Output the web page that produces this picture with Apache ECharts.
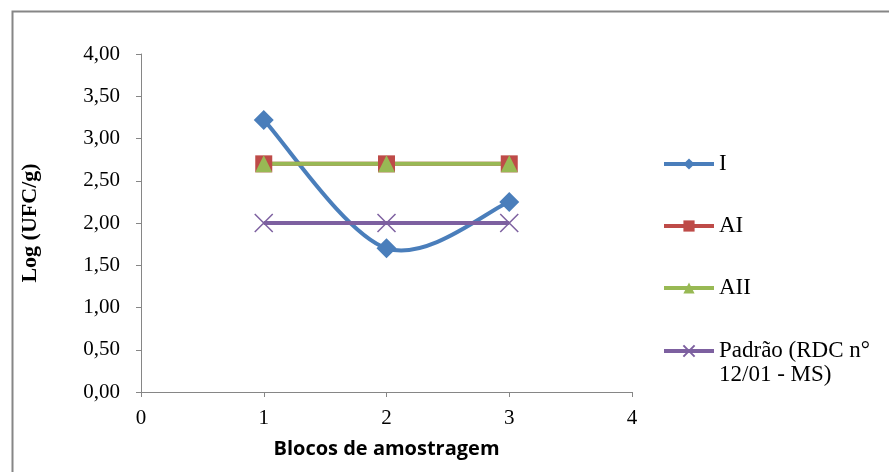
<!DOCTYPE html>
<html>
<head>
<meta charset="utf-8">
<script src="https://cdn.jsdelivr.net/npm/echarts@6/dist/echarts.min.js"></script>
<style>html,body{margin:0;padding:0;background:#fff}#c{width:889px;height:472px}</style>
</head>
<body>
<div id="c"></div>
<script>
var xBlocks = [1, 2, 3];
var serieI = [3.22, 1.70, 2.25];
var serieAI = [2.70, 2.70, 2.70];
var serieAII = [2.70, 2.70, 2.70];
var seriePadrao = [2.00, 2.00, 2.00];
var names = ['I', 'AI', 'AII', 'Padrão (RDC n°\n12/01 - MS)'];

function pairs(vals) { return xBlocks.map(function (x, i) { return [x, vals[i]]; }); }

var serif = '"Liberation Serif", "Times New Roman", serif';
var cBlue = '#4A7EBB', cRed = '#BE4B48', cGreen = '#98B954', cPurple = '#7D60A0';

// Excel-style smoothed curve (Catmull-Rom -> Bezier) drawn through the axis scales
function renderSmooth(params, api) {
  if (params.dataIndex !== 0) return null;
  var pts = xBlocks.map(function (x, i) { return api.coord([x, serieI[i]]); });
  var n = pts.length, kids = [];
  for (var i = 0; i < n - 1; i++) {
    var p0 = pts[Math.max(i - 1, 0)], p1 = pts[i], p2 = pts[i + 1], p3 = pts[Math.min(i + 2, n - 1)];
    kids.push({
      type: 'bezierCurve',
      shape: {
        x1: p1[0], y1: p1[1], x2: p2[0], y2: p2[1],
        cpx1: p1[0] + (p2[0] - p0[0]) / 6, cpy1: p1[1] + (p2[1] - p0[1]) / 6,
        cpx2: p2[0] - (p3[0] - p1[0]) / 6, cpy2: p2[1] - (p3[1] - p1[1]) / 6
      },
      style: { stroke: cBlue, lineWidth: 4, fill: null }
    });
  }
  return { type: 'group', children: kids };
}

var legendText = { fontFamily: serif, fontSize: 23, color: '#000', lineHeight: 24 };

var chart = echarts.init(document.getElementById('c'), null, { renderer: 'canvas' });
chart.setOption({
  backgroundColor: '#fff',
  animation: false,
  graphic: [{
    type: 'rect', left: 10, top: 9, shape: { x: 0, y: 0, width: 900, height: 500 },
    style: { fill: 'none', stroke: '#868686', lineWidth: 2 }, silent: true
  }],
  grid: { left: 141, right: 257, top: 54, bottom: 80 },
  xAxis: {
    type: 'value', min: 0, max: 4, interval: 1,
    name: 'Blocos de amostragem', nameLocation: 'middle', nameGap: 47,
    nameTextStyle: { fontFamily: '"Open Sans", sans-serif', fontWeight: 'bold', fontSize: 20, color: '#000' },
    axisLine: { lineStyle: { color: '#868686', width: 1 } },
    axisTick: { show: true, length: 5, lineStyle: { color: '#868686' } },
    axisLabel: { fontFamily: serif, fontSize: 21, color: '#000', margin: 16 },
    splitLine: { show: false }
  },
  yAxis: {
    type: 'value', min: 0, max: 4, interval: 0.5,
    name: 'Log (UFC/g)', nameLocation: 'middle', nameGap: 100, nameRotate: 90,
    nameTextStyle: { fontFamily: serif, fontWeight: 'bold', fontSize: 22, color: '#000' },
    axisLine: { show: true, lineStyle: { color: '#868686', width: 1 } },
    axisTick: { show: true, length: 5, lineStyle: { color: '#868686' } },
    axisLabel: { fontFamily: serif, fontSize: 21, color: '#000', margin: 21,
      formatter: function (v) { return v.toFixed(2).replace('.', ','); } },
    splitLine: { show: false }
  },
  legend: [{
    orient: 'vertical', left: 662, top: 152, padding: 0,
    itemWidth: 50, itemHeight: 14, itemGap: 38,
    textStyle: legendText, lineStyle: { width: 4 },
    data: [
      { name: names[0], lineStyle: { color: cBlue, width: 4, opacity: 1 } },
      { name: names[1] }, { name: names[2] }
    ]
  }, {
    orient: 'vertical', left: 662, top: 315, padding: 0,
    itemWidth: 50, itemHeight: 14,
    textStyle: legendText, lineStyle: { width: 4 },
    formatter: function (name) { return ' \n' + name; },
    data: [{ name: names[3] }]
  }],
  series: [
    { name: 'I-curve', type: 'custom', data: pairs(serieI), renderItem: renderSmooth,
      clip: false, silent: true, z: 2 },
    { name: names[0], type: 'line', data: pairs(serieI),
      symbol: 'diamond', symbolSize: 20,
      lineStyle: { color: cBlue, width: 4, opacity: 0 }, itemStyle: { color: cBlue } },
    { name: names[1], type: 'line', data: pairs(serieAI),
      symbol: 'rect', symbolSize: 17,
      lineStyle: { color: cRed, width: 4 }, itemStyle: { color: cRed } },
    { name: names[2], type: 'line', data: pairs(serieAII),
      symbol: 'triangle', symbolSize: 17,
      lineStyle: { color: cGreen, width: 4 }, itemStyle: { color: cGreen } },
    { name: names[3], type: 'line', data: pairs(seriePadrao),
      symbol: 'path://M0,0L10,10M10,0L0,10', symbolSize: 18,
      lineStyle: { color: cPurple, width: 4 },
      itemStyle: { color: 'none', borderColor: cPurple, borderWidth: 1.5 } }
  ]
});
</script>
</body>
</html>
